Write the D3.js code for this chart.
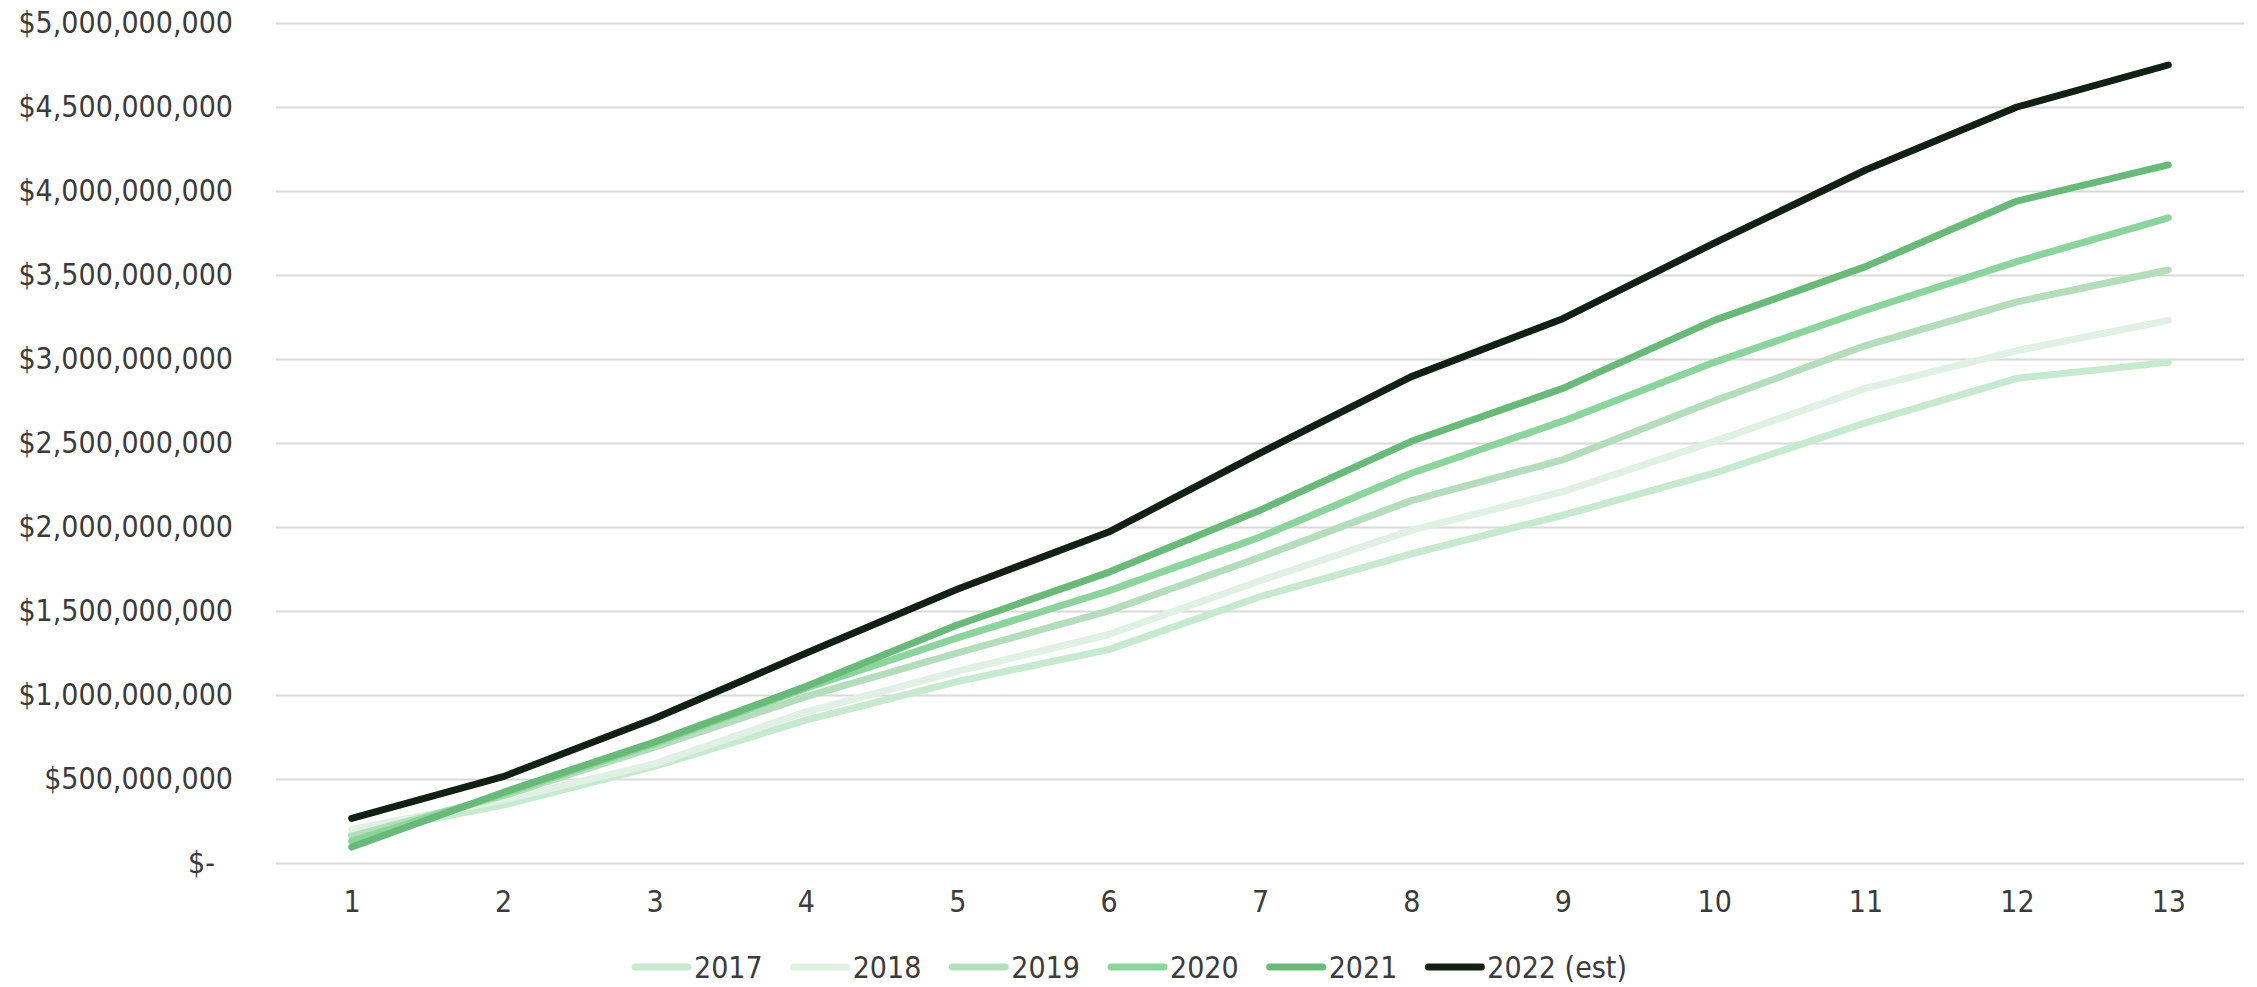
<!DOCTYPE html>
<html>
<head>
<meta charset="utf-8">
<script src="https://cdn.jsdelivr.net/npm/d3@7"></script>
<style>
  body { margin: 0; background: #fff; }
  text { font-family: "DejaVu Sans Condensed", "DejaVu Sans", sans-serif; font-stretch: condensed; fill: #3b3b3b; }
</style>
</head>
<body>
<script>
// chart size, same as the window
var width = 2257;
var height = 987;

// data (billions of $)
var periods = [1, 2, 3, 4, 5, 6, 7, 8, 9, 10, 11, 12, 13];
var years = ['2017', '2018', '2019', '2020', '2021', '2022 (est)'];
var colors = ['#c6ead0', '#e1f0e4', '#b4ddbc', '#8bd59d', '#69b979', '#111f14'];
var v2017 = [0.17, 0.345, 0.575, 0.85, 1.08, 1.27, 1.585, 1.84, 2.07, 2.32, 2.62, 2.885, 2.98];
var v2018 = [0.20, 0.375, 0.59, 0.90, 1.14, 1.36, 1.68, 1.98, 2.21, 2.51, 2.825, 3.05, 3.23];
var v2019 = [0.16, 0.40, 0.69, 0.99, 1.25, 1.50, 1.82, 2.157, 2.40, 2.75, 3.08, 3.34, 3.53];
var v2020 = [0.13, 0.41, 0.71, 1.04, 1.34, 1.62, 1.94, 2.32, 2.63, 2.98, 3.29, 3.58, 3.84];
var v2021 = [0.095, 0.42, 0.72, 1.05, 1.417, 1.73, 2.10, 2.51, 2.825, 3.23, 3.55, 3.94, 4.155];
var v2022 = [0.265, 0.514, 0.86, 1.248, 1.63, 1.97, 2.44, 2.895, 3.24, 3.69, 4.125, 4.50, 4.75];
var yTicks = [0, 0.5e9, 1e9, 1.5e9, 2e9, 2.5e9, 3e9, 3.5e9, 4e9, 4.5e9, 5e9];

var seriesValues = [v2017, v2018, v2019, v2020, v2021, v2022];
var series = years.map(function(y, i) {
  return { name: y, color: colors[i], values: seriesValues[i].map(function(v, j) { return { x: periods[j], y: v * 1e9 }; }) };
});

// plot area
var plotLeft = 276, plotRight = 2244, plotTop = 23, plotBottom = 863;

var svg = d3.select('body').append('svg')
  .attr('width', width)
  .attr('height', height);

var x = d3.scalePoint()
  .domain(periods)
  .range([plotLeft, plotRight])
  .padding(0.5);

var y = d3.scaleLinear()
  .domain([0, 5e9])
  .range([plotBottom, plotTop]);

var money = d3.format('$,');

// y axis + gridlines
var yAxis = svg.append('g')
  .attr('transform', 'translate(' + plotLeft + ',0)')
  .call(d3.axisLeft(y)
    .tickValues(yTicks)
    .tickSize(-(plotRight - plotLeft))
    .tickPadding(43)
    .tickFormat(function(d) { return d === 0 ? '$-' : money(d); }));
yAxis.select('.domain').remove();
yAxis.selectAll('line').attr('stroke', '#d9d9d9').attr('stroke-width', 2);
yAxis.selectAll('text')
  .attr('font-size', 30)
  .attr('dx', function(d) { return d === 0 ? -18 : 0; });

// x axis labels
var xAxis = svg.append('g')
  .attr('transform', 'translate(0,' + plotBottom + ')')
  .call(d3.axisBottom(x).tickSize(0).tickPadding(28));
xAxis.select('.domain').remove();
xAxis.selectAll('text').attr('font-size', 30);
d3.selectAll('.tick text').attr('fill', '#3b3b3b').style('font-family', null);

// lines
var line = d3.line()
  .x(function(d) { return x(d.x); })
  .y(function(d) { return y(d.y); });

svg.append('g').selectAll('path')
  .data(series)
  .enter().append('path')
  .attr('d', function(d) { return line(d.values); })
  .attr('fill', 'none')
  .attr('stroke', function(d) { return d.color; })
  .attr('stroke-width', 7)
  .attr('stroke-linecap', 'round')
  .attr('stroke-linejoin', 'round');

// legend, laid out item by item
var legend = svg.append('g').attr('transform', 'translate(0,967)');
var lx = 632;
series.forEach(function(s) {
  legend.append('line')
    .attr('x1', lx + 3).attr('x2', lx + 56)
    .attr('y1', 0).attr('y2', 0)
    .attr('stroke', s.color)
    .attr('stroke-width', 7)
    .attr('stroke-linecap', 'round');
  var t = legend.append('text')
    .attr('x', lx + 62)
    .attr('dy', '0.35em')
    .attr('font-size', 30)
    .text(s.name);
  lx += 62 + t.node().getComputedTextLength() + 28;
});
</script>
</body>
</html>
